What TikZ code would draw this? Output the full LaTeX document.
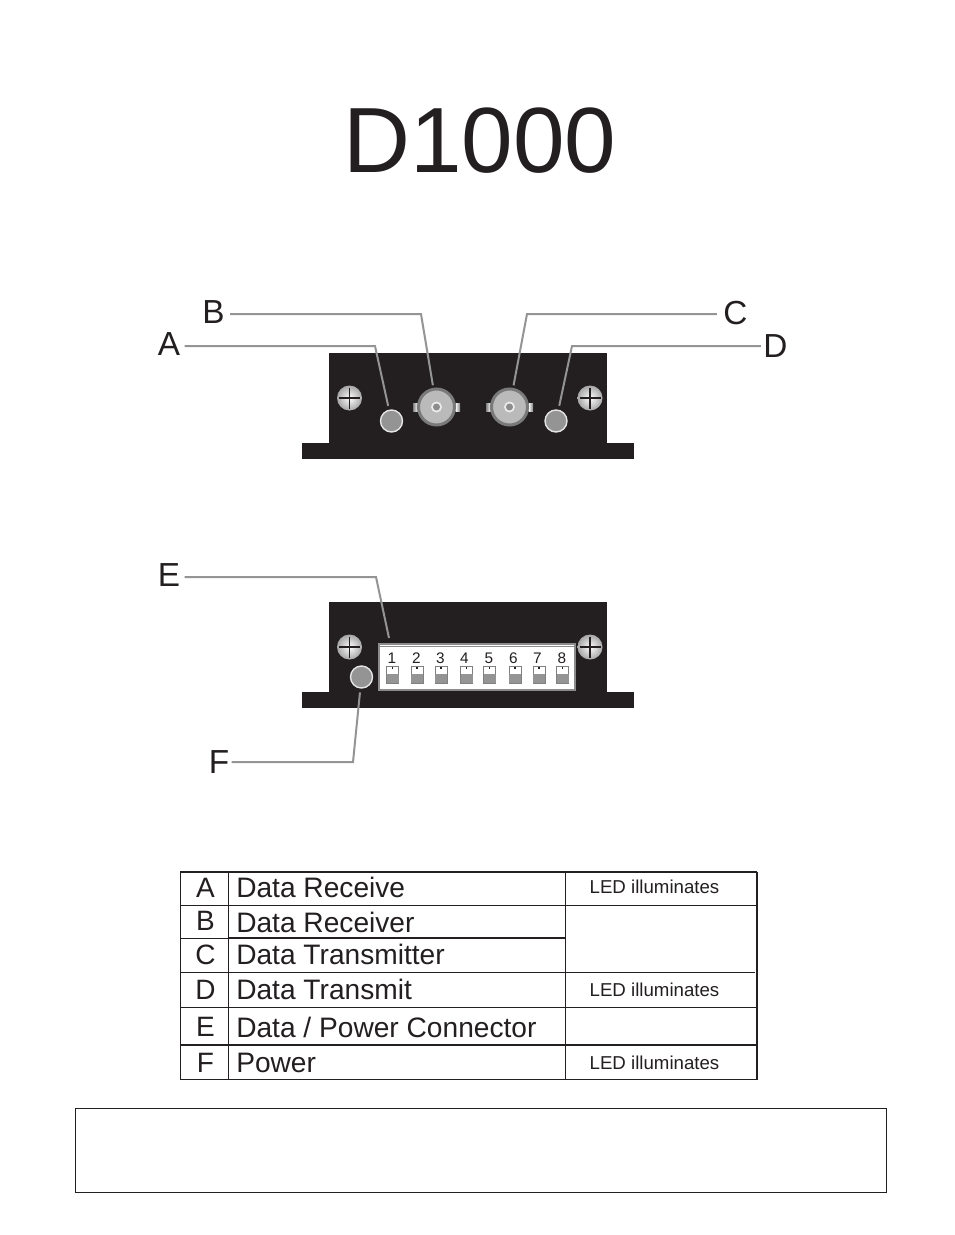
\documentclass[tikz,border=0pt]{standalone}
\usepackage{fontspec}
\setmainfont{Liberation Sans}
\usepackage{tikz}
\usetikzlibrary{calc}
\definecolor{ink}{HTML}{231F20}
\def\px{0.75pt}
\tikzset{
  txt/.style={inner sep=0pt, text=ink, anchor=base},
  leader/.style={draw=black!42, line width=2*\px},
  led/.style={circle, draw=black!10, line width=1.4*\px, fill=black!42, minimum size=22*\px, inner sep=0pt, outer sep=4.5*\px},
  bnc/.style={circle, draw=black!52, line width=3*\px, fill=black!27, minimum size=36*\px, inner sep=0pt, outer sep=4*\px},
  rule/.style={draw=ink, line width=1*\px},
  heavy/.style={draw=ink, line width=1.8*\px}
}
\begin{document}
\begin{tikzpicture}[x=\px, y=-\px]
  \useasboundingbox (0,0) rectangle (954,1235);
  \fill[white] (0,0) rectangle (954,1235);

  %title
  \node[txt, font=\fontsize{69.5}{69.5}\selectfont] (title) at (480,172) {D1000};

  %device bodies
  \foreach \dy in {0,249}{
    \fill[ink] (329,353+\dy) rectangle (607,443+\dy);
    \fill[ink] (302,443+\dy) rectangle (634,459+\dy);
    \foreach \x in {349.5,590}{
      \shade[inner color=white, outer color=black!35] (\x,398+\dy) circle[radius=12.5];
      \draw[ink, line width=1.2*\px] (\x-10.5,398+\dy) -- (\x+10.5,398+\dy);
      \draw[ink, line width=1.2*\px] (\x,387.5+\dy) -- (\x,408.5+\dy);
    }
  }

  %bnc connectors
  \foreach \x/\name in {436.5/bncB, 509.5/bncC}{
    \shade[left color=black!50, right color=white] (\x-23.5,403) rectangle (\x-19,411);
    \shade[left color=white, right color=black!50] (\x+19,403) rectangle (\x+23.5,411);
    \node[bnc] (\name) at (\x,407) {};
    \fill[black!8] (\x,407) circle[radius=5.5];
    \fill[black!45] (\x,407) circle[radius=3.5];
  }

  %leds
  \foreach \x/\y/\name in {391.5/421/ledA, 556/421/ledD, 361.5/677/ledF}{
    \node[led] (\name) at (\x,\y) {};
  }

  %dip switch
  \node[draw=black!45, line width=2*\px, fill=white, minimum width=196*\px, minimum height=46*\px, inner sep=0pt] (dip) at (477,666.5) {};
  \draw[black!45, line width=1.2*\px] (dip.north west) ++(0,4) -- ++(198,0);
  \foreach \x/\num/\name in {392/1/sw1, 416.5/2/sw2, 440.5/3/sw3, 464.5/4/sw4, 489/5/sw5, 513.5/6/sw6, 537.5/7/sw7, 562/8/sw8}{
    \node[txt, font=\fontsize{11.5}{11.5}\selectfont] (\name) at (\x,663) {\num};
  }
  \foreach \x in {392.5,417,441,466.5,489.5,515,539,562.5}{
    \draw[black!50, line width=1*\px, fill=white] (\x-6,666) rectangle (\x+6,683);
    \fill[black!42] (\x-6,674) rectangle (\x+6,683);
    \fill[ink] (\x-0.7,667) rectangle (\x+0.7,669);
  }

  %labels
  \foreach \x/\y/\num/\name/\gap in {169/355/A/lblA/4.5, 213.5/323/B/lblB/5.5, 735.5/324.5/C/lblC/6.5, 775.5/357/D/lblD/2.5, 169/586/E/lblE/4.5, 219/773/F/lblF/2.5}{
    \node[txt, font=\fontsize{25}{25}\selectfont, outer sep=\gap*\px] (\name) at (\x,\y) {\num};
  }

  %leaders
  \coordinate (kneeA) at (375,346);
  \coordinate (kneeB) at (421,314);
  \coordinate (kneeC) at (527,314);
  \coordinate (kneeD) at (572,346);
  \coordinate (kneeE) at (376,577);
  \coordinate (kneeF) at (353,762);
  \coordinate (tipE) at (389,638);
  \draw[leader] (lblA.east |- kneeA) -- (kneeA) -- (ledA);
  \draw[leader] (lblB.east |- kneeB) -- (kneeB) -- (bncB);
  \draw[leader] (lblC.west |- kneeC) -- (kneeC) -- (bncC);
  \draw[leader] (lblD.west |- kneeD) -- (kneeD) -- (ledD);
  \draw[leader] (lblE.east |- kneeE) -- (kneeE) -- (tipE);
  \draw[leader] (lblF.east |- kneeF) -- (kneeF) -- (ledF);

  %table
  \draw[rule] (180,872) rectangle (757,1079);
  \draw[rule] (228,872) -- (228,1079);
  \draw[rule] (565,872) -- (565,1079);
  \draw[rule] (180,905) -- (757,905);
  \draw[rule] (180,938) -- (228,938);
  \draw[heavy] (228,938) -- (565,938);
  \draw[rule] (180,972) -- (755,972);
  \draw[rule] (180,1007) -- (757,1007);
  \draw[heavy] (180,1045) -- (757,1045);
  \draw[line width=1.6*\px, draw=ink] (757,872) -- (757,1079);
  \draw[line width=1.6*\px, draw=ink] (180,872) -- (757,872);

  \foreach \y/\num/\name in {897/A/keyA, 930/B/keyB, 964/C/keyC, 999/D/keyD, 1036/E/keyE, 1072/F/keyF}{
    \node[txt, font=\fontsize{21}{21}\selectfont] (\name) at (205.5,\y) {\num};
  }
  \foreach \y/\num/\name in {897/{Data Receive}/rowA, 932/{Data Receiver}/rowB, 964/{Data Transmitter}/rowC, 999/{Data Transmit}/rowD, 1037/{Data / Power Connector}/rowE, 1072/{Power}/rowF}{
    \node[txt, anchor=base west, font=\fontsize{21.1}{21}\selectfont] (\name) at (236,\y) {\num};
  }
  \foreach \y/\name in {893/noteA, 996/noteD, 1069/noteF}{
    \node[txt, font=\fontsize{14}{14}\selectfont] (\name) at (654.5,\y) {LED illuminates};
  }

  %bottom box
  \draw[draw=ink, line width=1.5*\px] (75.5,1108.5) rectangle (886.5,1192.5);
\end{tikzpicture}
\end{document}
